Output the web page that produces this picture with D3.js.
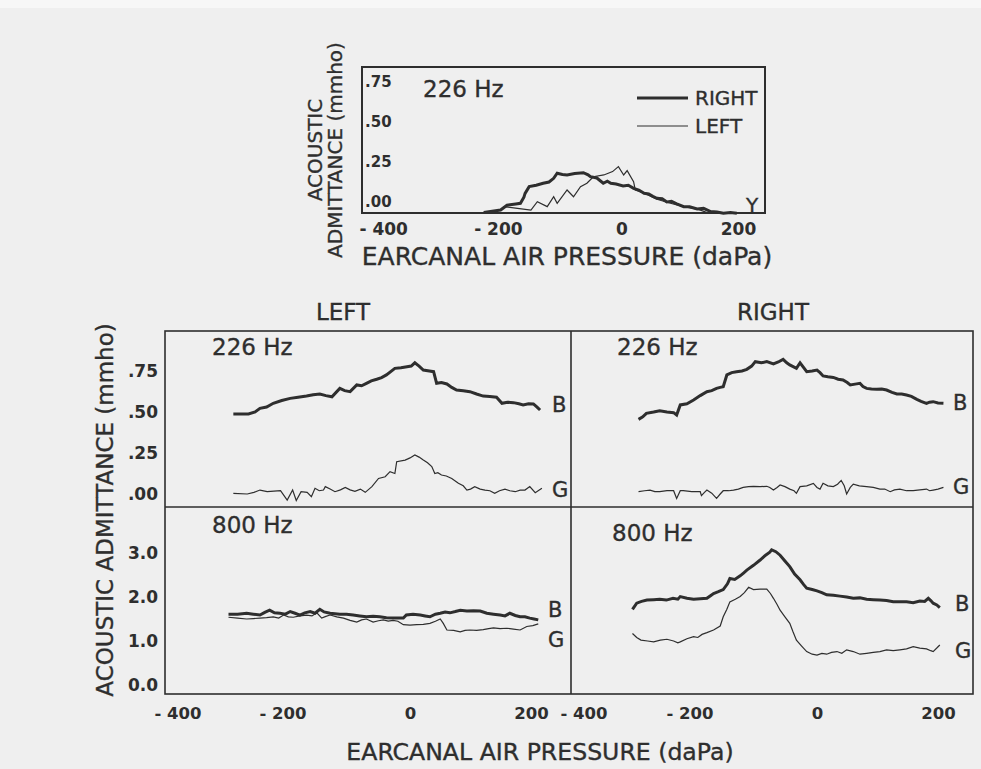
<!DOCTYPE html>
<html>
<head>
<meta charset="utf-8">
<script src="https://cdnjs.cloudflare.com/ajax/libs/d3/7.8.5/d3.min.js"></script>
<style>
  body { margin: 0; background: #efefef; }
  svg { display: block; }
</style>
</head>
<body>
<svg id="chart" width="981" height="769"></svg>
<script>
// pressure ticks (daPa) and admittance ticks (mmho)
var pressureTicks = [-400, -200, 0, 200];
var ticks226 = [0, 0.25, 0.5, 0.75];
var ticks800 = [0, 1, 2, 3];

// inset chart, 226 Hz, Y (admittance magnitude)
var topRight = [[-236,-0.065],[-207,-0.05],[-196,-0.02],[-181,-0.012],[-173,-0.008],[-167,0.03],[-165,0.054],[-158,0.096],[-146,0.105],[-134,0.117],[-124,0.125],[-116,0.148],[-110,0.18],[-101,0.172],[-93,0.169],[-80,0.178],[-65,0.183],[-57,0.17],[-53,0.158],[-42,0.15],[-31,0.117],[-24,0.13],[-18,0.117],[-9,0.112],[3,0.1],[12,0.105],[21,0.085],[30,0.075],[39,0.054],[47,0.05],[54,0.035],[61,0.023],[70,0.02],[78,0.0],[86,0.004],[95,-0.012],[107,-0.029],[117,-0.03],[130,-0.044],[141,-0.04],[153,-0.06],[164,-0.062],[175,-0.07],[187,-0.066],[198,-0.07]];
var topLeft = [[-202,-0.029],[-178,-0.04],[-155,-0.05],[-144,0.002],[-127,-0.029],[-116,0.033],[-110,-0.008],[-93,0.075],[-82,0.033],[-70,0.096],[-59,0.117],[-48,0.158],[-30,0.169],[-15,0.19],[-5,0.221],[4,0.169],[10,0.196],[21,0.127],[24,0.075],[40,0.054],[61,0.017],[84,-0.008],[107,-0.029],[130,-0.044],[146,-0.065]];

// LEFT ear, 226 Hz
var left226B = [[-292,0.488],[-267,0.488],[-256,0.50],[-248,0.522],[-237,0.53],[-226,0.553],[-212,0.57],[-198,0.583],[-185,0.59],[-171,0.597],[-160,0.605],[-149,0.61],[-139,0.60],[-129,0.593],[-116,0.644],[-108,0.63],[-99,0.624],[-88,0.665],[-80,0.66],[-72,0.675],[-64,0.69],[-55,0.70],[-47,0.71],[-39,0.726],[-25,0.766],[-15,0.77],[-5,0.776],[2,0.78],[8,0.80],[15,0.78],[22,0.756],[32,0.75],[39,0.746],[44,0.675],[52,0.68],[61,0.671],[69,0.65],[77,0.634],[88,0.63],[99,0.624],[110,0.61],[121,0.597],[132,0.595],[143,0.59],[152,0.553],[161,0.56],[171,0.557],[180,0.55],[187,0.543],[196,0.55],[204,0.549],[210,0.53],[215,0.512]];
var left226G = [[-292,0.004],[-269,0.0],[-258,0.01],[-248,0.024],[-236,0.014],[-214,0.02],[-203,-0.037],[-194,0.024],[-188,-0.04],[-180,0.014],[-170,0.01],[-163,-0.016],[-157,0.035],[-150,0.02],[-143,0.024],[-140,0.045],[-132,0.03],[-124,0.014],[-115,0.025],[-107,0.04],[-99,0.025],[-91,0.016],[-82,0.03],[-74,0.01],[-63,0.045],[-52,0.095],[-41,0.105],[-33,0.136],[-25,0.125],[-22,0.197],[-8,0.207],[0,0.22],[8,0.238],[15,0.225],[22,0.207],[29,0.19],[36,0.167],[41,0.125],[46,0.13],[52,0.116],[60,0.11],[69,0.095],[80,0.065],[88,0.05],[94,0.024],[100,0.03],[107,0.045],[116,0.03],[124,0.024],[132,0.02],[140,0.004],[148,0.02],[157,0.03],[165,0.02],[174,0.014],[182,0.024],[190,0.024],[198,0.045],[207,0.008],[218,0.035]];

// RIGHT ear, 226 Hz
var right226B = [[-295,0.455],[-288,0.47],[-282,0.492],[-270,0.50],[-260,0.508],[-248,0.50],[-237,0.496],[-232,0.482],[-226,0.543],[-215,0.55],[-204,0.573],[-193,0.60],[-182,0.624],[-174,0.63],[-166,0.644],[-160,0.65],[-155,0.654],[-149,0.726],[-141,0.74],[-133,0.746],[-124,0.75],[-116,0.76],[-108,0.78],[-102,0.807],[-92,0.80],[-83,0.807],[-72,0.793],[-64,0.805],[-56,0.821],[-50,0.80],[-45,0.787],[-34,0.766],[-28,0.80],[-22,0.77],[-17,0.746],[-8,0.75],[0,0.756],[5,0.74],[10,0.72],[18,0.715],[27,0.711],[35,0.70],[43,0.695],[50,0.68],[55,0.665],[63,0.67],[71,0.675],[76,0.655],[82,0.644],[90,0.64],[99,0.638],[107,0.64],[115,0.634],[124,0.62],[132,0.61],[140,0.61],[148,0.604],[156,0.595],[165,0.577],[172,0.565],[181,0.553],[186,0.56],[192,0.563],[200,0.555],[209,0.553]];
var right226G = [[-295,0.014],[-285,0.02],[-276,0.024],[-268,0.015],[-260,0.014],[-248,0.02],[-237,0.02],[-232,-0.027],[-226,0.02],[-221,0.02],[-207,0.015],[-193,0.014],[-191,-0.01],[-186,0.01],[-182,0.024],[-174,0.005],[-166,-0.027],[-160,0.0],[-155,0.02],[-146,0.02],[-138,0.024],[-130,0.03],[-122,0.04],[-113,0.045],[-105,0.047],[-94,0.045],[-83,0.047],[-78,0.04],[-72,0.024],[-66,0.04],[-61,0.055],[-53,0.045],[-45,0.03],[-38,0.02],[-34,0.004],[-28,0.045],[-17,0.05],[-6,0.065],[0,0.04],[5,0.03],[10,0.065],[18,0.05],[27,0.045],[34,0.06],[40,0.083],[45,0.05],[49,0.0],[55,0.04],[60,0.06],[70,0.05],[82,0.045],[93,0.04],[104,0.03],[112,0.03],[121,0.014],[128,0.025],[137,0.03],[148,0.02],[159,0.02],[170,0.025],[181,0.03],[186,0.02],[192,0.024],[200,0.03],[209,0.04]];

// LEFT ear, 800 Hz
var left800B = [[-300,1.61],[-285,1.61],[-270,1.63],[-259,1.61],[-248,1.59],[-240,1.65],[-232,1.70],[-224,1.64],[-215,1.63],[-206,1.61],[-198,1.67],[-190,1.63],[-182,1.59],[-174,1.64],[-165,1.67],[-157,1.63],[-149,1.72],[-142,1.66],[-132,1.63],[-124,1.62],[-116,1.61],[-105,1.61],[-94,1.59],[-83,1.57],[-72,1.55],[-61,1.56],[-50,1.55],[-39,1.53],[-28,1.52],[-11,1.52],[-6,1.59],[5,1.61],[17,1.59],[25,1.57],[33,1.55],[42,1.61],[50,1.63],[58,1.66],[66,1.64],[75,1.67],[83,1.70],[94,1.68],[105,1.69],[116,1.68],[127,1.63],[138,1.61],[149,1.59],[157,1.57],[165,1.63],[174,1.58],[182,1.55],[190,1.55],[198,1.52],[205,1.50],[212,1.48]];
var left800G = [[-300,1.54],[-285,1.52],[-270,1.50],[-259,1.51],[-248,1.52],[-237,1.53],[-226,1.55],[-217,1.52],[-209,1.59],[-201,1.55],[-193,1.54],[-182,1.57],[-171,1.59],[-162,1.57],[-154,1.64],[-146,1.52],[-139,1.56],[-132,1.59],[-121,1.55],[-110,1.52],[-99,1.47],[-88,1.43],[-80,1.48],[-72,1.50],[-61,1.43],[-52,1.46],[-44,1.48],[-36,1.45],[-28,1.47],[-20,1.45],[-11,1.37],[0,1.36],[11,1.37],[22,1.38],[33,1.40],[42,1.45],[50,1.50],[55,1.40],[61,1.25],[72,1.24],[83,1.21],[91,1.24],[99,1.25],[110,1.24],[121,1.26],[130,1.28],[138,1.30],[149,1.28],[160,1.29],[171,1.27],[182,1.25],[193,1.33],[203,1.35],[212,1.39]];

// RIGHT ear, 800 Hz
var right800B = [[-305,1.72],[-298,1.86],[-290,1.90],[-281,1.93],[-270,1.94],[-260,1.95],[-249,1.93],[-238,1.97],[-230,1.95],[-226,2.01],[-215,1.97],[-204,1.95],[-193,1.96],[-182,1.97],[-176,2.03],[-171,2.08],[-163,2.12],[-155,2.17],[-148,2.30],[-144,2.42],[-136,2.40],[-127,2.48],[-121,2.55],[-116,2.61],[-105,2.72],[-94,2.84],[-85,2.95],[-78,3.02],[-75,3.07],[-68,3.03],[-61,2.95],[-53,2.82],[-45,2.69],[-37,2.52],[-28,2.39],[-22,2.28],[-17,2.20],[-8,2.17],[0,2.14],[8,2.10],[16,2.05],[27,2.04],[38,2.02],[49,2.00],[60,1.97],[71,1.98],[82,1.95],[93,1.94],[104,1.93],[115,1.92],[126,1.89],[137,1.89],[148,1.89],[159,1.87],[170,1.91],[178,1.90],[184,1.97],[188,1.92],[192,1.86],[198,1.82],[203,1.76]];
var right800G = [[-305,1.17],[-298,1.08],[-291,1.02],[-280,1.00],[-270,0.98],[-259,1.02],[-248,1.04],[-237,1.00],[-230,0.96],[-226,0.98],[-215,1.05],[-204,1.10],[-197,1.08],[-190,1.15],[-182,1.19],[-171,1.25],[-160,1.34],[-155,1.55],[-149,1.72],[-144,1.89],[-135,1.95],[-127,2.01],[-120,2.10],[-113,2.22],[-105,2.17],[-94,2.18],[-83,2.18],[-77,2.08],[-72,1.97],[-66,1.83],[-61,1.70],[-53,1.55],[-45,1.40],[-40,1.22],[-34,1.02],[-25,0.88],[-17,0.76],[-8,0.70],[0,0.68],[8,0.72],[16,0.70],[24,0.74],[33,0.76],[41,0.72],[49,0.80],[60,0.76],[71,0.70],[82,0.72],[93,0.74],[104,0.76],[115,0.80],[126,0.78],[137,0.80],[148,0.82],[159,0.87],[170,0.84],[181,0.82],[188,0.78],[192,0.76],[198,0.84],[203,0.91]];

var ink = "#2e2e2e";
var svg = d3.select("#chart");
var font = "DejaVu Sans, sans-serif";

svg.append("rect").attr("width", 981).attr("height", 769).attr("fill", "#efefef");
svg.append("rect").attr("width", 981).attr("height", 8).attr("fill", "#f7f7f7");

function label(txt, x, y, size, opts) {
  opts = opts || {};
  var t = svg.append("text").attr("x", x).attr("y", y).text(txt)
    .attr("font-family", font).attr("font-size", size).attr("fill", ink)
    .attr("stroke", ink).attr("stroke-width", 0.35)
    .attr("text-anchor", opts.anchor || "start");
  if (opts.rotate) t.attr("transform", "rotate(-90," + x + "," + y + ")");
  return t;
}

var fmt2 = function(d) { return d3.format(".2f")(d).replace(/^0/, ""); };
var fmt1 = d3.format(".1f");
var pressFmt = function(d) { return d < 0 ? "- " + Math.abs(d) : d; };

function line(xs, ys, data, width) {
  svg.append("path").datum(data)
    .attr("fill", "none").attr("stroke", ink).attr("stroke-width", width)
    .attr("stroke-linejoin", "miter")
    .attr("d", d3.line().x(function(d) { return xs(d[0]); }).y(function(d) { return ys(d[1]); }));
}

function tickStyle(g, size) {
  g.select(".domain").remove();
  g.selectAll("text").attr("font-size", size).attr("fill", ink)
    .attr("font-family", font).attr("font-weight", "bold");
}

// firstShift: the -400 label sits a bit right of its tick in the original
function xAxis(xs, y, pad, size, firstShift) {
  var g = svg.append("g").attr("transform", "translate(0," + y + ")")
    .call(d3.axisBottom(xs).tickValues(pressureTicks).tickSize(0).tickPadding(pad).tickFormat(pressFmt));
  tickStyle(g, size);
  g.selectAll("text").attr("dx", function(d) {
    if (d === -400) return -0.4 * size + firstShift;
    return d < 0 ? -0.4 * size : 0;
  });
}

// ---------- inset chart ----------
var xTop = d3.scaleLinear().domain([-400, 200]).range([388, 738]);
var yTop = d3.scaleLinear().domain([0, 0.75]).range([202, 82]);

svg.append("rect").attr("x", 362).attr("y", 67).attr("width", 403).attr("height", 146)
  .attr("fill", "none").attr("stroke", ink).attr("stroke-width", 2);

var gy = svg.append("g").attr("transform", "translate(362,0)")
  .call(d3.axisRight(yTop).tickValues(ticks226).tickSize(0).tickPadding(3).tickFormat(fmt2));
tickStyle(gy, 15);

xAxis(xTop, 213, 10, 17, 2);

line(xTop, yTop, topLeft, 1.2);
line(xTop, yTop, topRight, 3);

label("226 Hz", 423, 97, 23);
svg.append("line").attr("x1", 637).attr("x2", 688).attr("y1", 98).attr("y2", 98).attr("stroke", ink).attr("stroke-width", 3);
svg.append("line").attr("x1", 637).attr("x2", 688).attr("y1", 126).attr("y2", 126).attr("stroke", ink).attr("stroke-width", 1.2);
label("RIGHT", 695, 105, 20);
label("LEFT", 695, 133, 20);
label("Y", 746, 212, 20);

label("ACOUSTIC", 322, 150, 20, {anchor: "middle", rotate: true});
label("ADMITTANCE (mmho)", 342, 150, 20, {anchor: "middle", rotate: true});
label("EARCANAL AIR PRESSURE (daPa)", 567, 265, 25, {anchor: "middle"});

// ---------- main panels ----------
var xLeft = d3.scaleLinear().domain([-400, 200]).range([168, 531]);
var xRight = d3.scaleLinear().domain([-400, 200]).range([575, 938]);
var y226 = d3.scaleLinear().domain([0, 0.75]).range([494, 371]);
var y800 = d3.scaleLinear().domain([0, 3]).range([685, 553]);

svg.append("rect").attr("x", 165).attr("y", 331).attr("width", 808).attr("height", 363)
  .attr("fill", "none").attr("stroke", ink).attr("stroke-width", 1.6);
svg.append("line").attr("x1", 571).attr("x2", 571).attr("y1", 331).attr("y2", 694).attr("stroke", ink).attr("stroke-width", 1.6);
svg.append("line").attr("x1", 165).attr("x2", 973).attr("y1", 507).attr("y2", 507).attr("stroke", ink).attr("stroke-width", 1.6);

[[y226, ticks226, fmt2], [y800, ticks800, fmt1]].forEach(function(a) {
  var g = svg.append("g").attr("transform", "translate(165,0)")
    .call(d3.axisLeft(a[0]).tickValues(a[1]).tickSize(0).tickPadding(7).tickFormat(a[2]));
  tickStyle(g, 17);
});

xAxis(xLeft, 694, 13, 16.5, 16);
xAxis(xRight, 694, 13, 16.5, 15);

line(xLeft, y226, left226B, 3);
line(xLeft, y226, left226G, 1.2);
line(xRight, y226, right226B, 3);
line(xRight, y226, right226G, 1.2);
line(xLeft, y800, left800G, 1.2);
line(xLeft, y800, left800B, 3);
line(xRight, y800, right800B, 3);
line(xRight, y800, right800G, 1.2);

label("LEFT", 343, 320, 23, {anchor: "middle"});
label("RIGHT", 773, 320, 23, {anchor: "middle"});
label("226 Hz", 212, 355, 23);
label("226 Hz", 617, 355, 23);
label("800 Hz", 212, 533, 23);
label("800 Hz", 612, 541, 23);

label("B", 552, 412, 21);
label("G", 552, 497, 21);
label("B", 953, 410, 21);
label("G", 953, 494, 21);
label("B", 548, 617, 21);
label("G", 548, 647, 21);
label("B", 955, 611, 21);
label("G", 955, 658, 21);

label("ACOUSTIC ADMITTANCE (mmho)", 113, 510, 23, {anchor: "middle", rotate: true});
label("EARCANAL AIR PRESSURE (daPa)", 540, 760, 23.6, {anchor: "middle"});
</script>
</body>
</html>
